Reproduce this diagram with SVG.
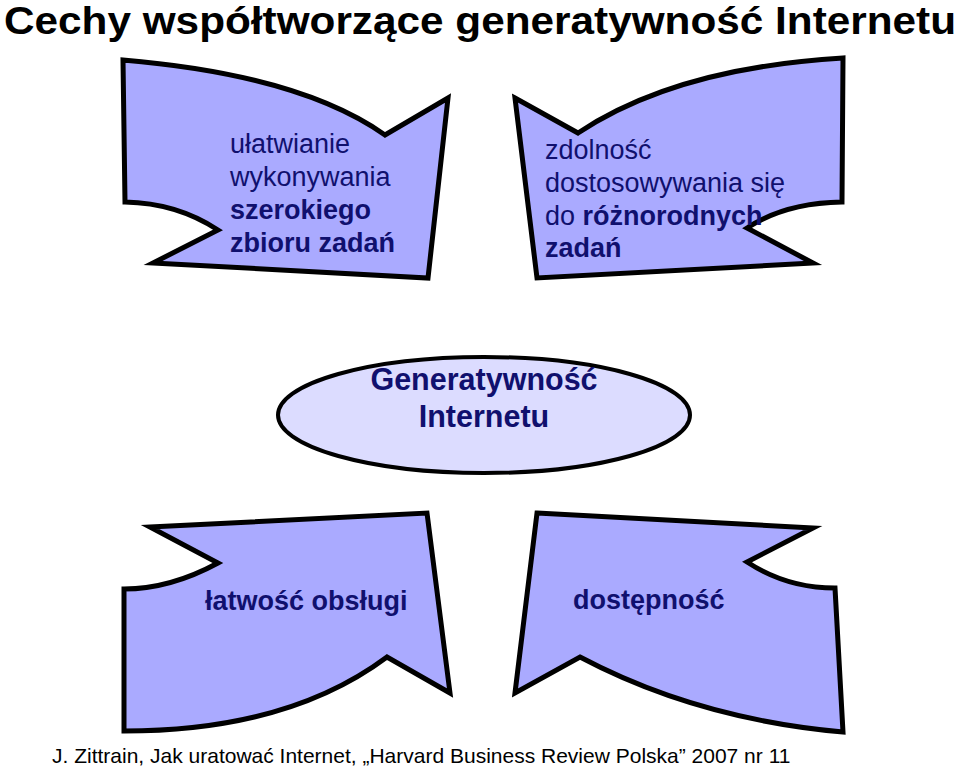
<svg xmlns="http://www.w3.org/2000/svg" width="960" height="769" viewBox="0 0 960 769">
<style>
.shape{fill:#aaaaff;stroke:#000;stroke-width:5;stroke-linejoin:miter;stroke-miterlimit:10}
.ell{fill:#dcdcff;stroke:#000;stroke-width:4}
.t{font-family:"Liberation Sans",Arial,sans-serif;fill:#10106e;font-size:27px}
.b{font-weight:bold}
.title{font-family:"Liberation Sans",Arial,sans-serif;font-weight:bold;font-size:38px;fill:#000}
.foot{font-family:"Liberation Sans",Arial,sans-serif;font-size:21px;fill:#000}
</style>
<rect width="960" height="769" fill="#fff"/>
<text class="title" x="4" y="34" textLength="952" lengthAdjust="spacingAndGlyphs">Cechy współtworzące generatywność Internetu</text>
<g id="node-tl">
<path class="shape" d="M123,60 Q300,75 385,135 L448,98 L428,278 L153,263 L218,230 Q177,203 125,202 Z"/>
<text class="t" x="230" y="153">ułatwianie</text>
<text class="t" x="230" y="186">wykonywania</text>
<text class="t b" x="230" y="219">szerokiego</text>
<text class="t b" x="230" y="252">zbioru zadań</text>
</g>
<g id="node-tr">
<path class="shape" d="M515,98 L578,133 Q675,68 843,58 L842,202 Q785,203 747,228 L813,263 L537,278 Z"/>
<text class="t" x="545" y="159">zdolność</text>
<text class="t" x="545" y="192">dostosowywania się</text>
<text class="t" x="545" y="225">do <tspan class="b">różnorodnych</tspan></text>
<text class="t b" x="545" y="257">zadań</text>
</g>
<g id="node-center">
<ellipse class="ell" cx="484" cy="415" rx="206" ry="58"/>
<text class="t b" x="484" y="390" text-anchor="middle" style="font-size:30.5px">Generatywność</text>
<text class="t b" x="484" y="427" text-anchor="middle" style="font-size:30.5px">Internetu</text>
</g>
<g id="node-bl">
<path class="shape" d="M150,527 L427,513 L450,693 L387,657 Q288,731 124,731 L124,589 Q170,589 218,563 Z"/>
<text class="t b" x="205" y="610">łatwość obsługi</text>
</g>
<g id="node-br">
<path class="shape" d="M537,513 L813,528 L747,562 Q787,588 835,588 L843,732 Q697,719 580,657 L515,693 Z"/>
<text class="t b" x="573" y="609">dostępność</text>
</g>
<g id="connectors"></g>
<text class="foot" x="52" y="763">J. Zittrain, Jak uratować Internet, „Harvard Business Review Polska” 2007 nr 11</text>
</svg>
